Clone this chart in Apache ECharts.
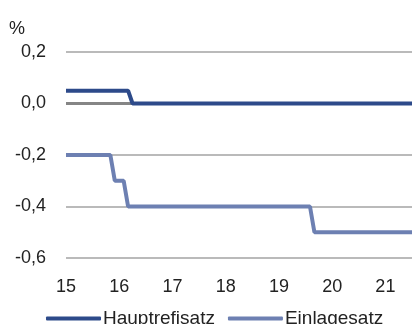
<!DOCTYPE html>
<html>
<head>
<meta charset="utf-8">
<script src="https://cdn.jsdelivr.net/npm/echarts@6/dist/echarts.min.js"></script>
<style>
  html, body { margin: 0; padding: 0; background: #fff; }
  #chart { width: 412px; height: 324px; }
</style>
</head>
<body>
<div id="chart"></div>
<script>
// Monthly observations, Jan 2015 – Jul 2021
const months = [
  '2015-01','2015-02','2015-03','2015-04','2015-05','2015-06','2015-07','2015-08','2015-09','2015-10','2015-11','2015-12',
  '2016-01','2016-02','2016-03','2016-04','2016-05','2016-06','2016-07','2016-08','2016-09','2016-10','2016-11','2016-12',
  '2017-01','2017-02','2017-03','2017-04','2017-05','2017-06','2017-07','2017-08','2017-09','2017-10','2017-11','2017-12',
  '2018-01','2018-02','2018-03','2018-04','2018-05','2018-06','2018-07','2018-08','2018-09','2018-10','2018-11','2018-12',
  '2019-01','2019-02','2019-03','2019-04','2019-05','2019-06','2019-07','2019-08','2019-09','2019-10','2019-11','2019-12',
  '2020-01','2020-02','2020-03','2020-04','2020-05','2020-06','2020-07','2020-08','2020-09','2020-10','2020-11','2020-12',
  '2021-01','2021-02','2021-03','2021-04','2021-05','2021-06','2021-07'
];

// Hauptrefinanzierungssatz, %
const hauptrefisatz = [
  0.05,0.05,0.05,0.05,0.05,0.05,0.05,0.05,0.05,0.05,0.05,0.05,
  0.05,0.05,0.05,0,0,0,0,0,0,0,0,0,
  0,0,0,0,0,0,0,0,0,0,0,0,
  0,0,0,0,0,0,0,0,0,0,0,0,
  0,0,0,0,0,0,0,0,0,0,0,0,
  0,0,0,0,0,0,0,0,0,0,0,0,
  0,0,0,0,0,0,0
];

// Einlagefazilität, %
const einlagesatz = [
  -0.2,-0.2,-0.2,-0.2,-0.2,-0.2,-0.2,-0.2,-0.2,-0.2,-0.2,-0.3,
  -0.3,-0.3,-0.4,-0.4,-0.4,-0.4,-0.4,-0.4,-0.4,-0.4,-0.4,-0.4,
  -0.4,-0.4,-0.4,-0.4,-0.4,-0.4,-0.4,-0.4,-0.4,-0.4,-0.4,-0.4,
  -0.4,-0.4,-0.4,-0.4,-0.4,-0.4,-0.4,-0.4,-0.4,-0.4,-0.4,-0.4,
  -0.4,-0.4,-0.4,-0.4,-0.4,-0.4,-0.4,-0.4,-0.5,-0.5,-0.5,-0.5,
  -0.5,-0.5,-0.5,-0.5,-0.5,-0.5,-0.5,-0.5,-0.5,-0.5,-0.5,-0.5,
  -0.5,-0.5,-0.5,-0.5,-0.5,-0.5,-0.5
];

const seriesNames = ['Hauptrefisatz', 'Einlagesatz'];
const yTicks = { min: -0.6, max: 0.2, step: 0.2 };
const xYears = { min: 15, max: 21.5, step: 1 };

// month string -> two-digit year with monthly fraction
function toYearPos(m) {
  const [y, mo] = m.split('-').map(Number);
  return (y - 2000) + (mo - 1) / 12;
}
const pairs = vals => months.map((m, i) => [toYearPos(m), vals[i]]);

const FONT = '"Liberation Sans", Arial, sans-serif';
const FS = 18;
const chart = echarts.init(document.getElementById('chart'), null, { renderer: 'canvas' });
chart.setOption({
  animation: false,
  textStyle: { fontFamily: FONT },
  grid: { left: 66, right: 0, top: 52, bottom: 66, containLabel: false },
  xAxis: {
    type: 'value',
    min: xYears.min, max: xYears.max, interval: xYears.step,
    axisLine: { show: false },
    axisTick: { show: false },
    splitLine: { show: false },
    axisLabel: {
      color: '#222', fontSize: FS, fontFamily: FONT, margin: 20,
      showMaxLabel: false,
      formatter: v => Number.isInteger(v) ? String(v) : ''
    }
  },
  yAxis: {
    type: 'value',
    min: yTicks.min, max: yTicks.max, interval: yTicks.step,
    name: '%',
    nameLocation: 'end',
    nameGap: 14,
    nameTextStyle: { color: '#222', fontSize: FS, fontFamily: FONT, align: 'left', padding: [0, 0, 0, -57] },
    axisLine: { show: false },
    axisTick: { show: false },
    splitLine: { lineStyle: { color: '#a3a3a3', width: 1.5 } },
    axisLabel: {
      color: '#222', fontSize: FS, fontFamily: FONT, margin: 20,
      formatter: v => v.toFixed(1).replace('.', ',')
    }
  },
  legend: {
    top: 304, left: 41,
    itemWidth: 55, itemHeight: 4, itemGap: 13,
    icon: 'roundRect',
    textStyle: { color: '#222', fontSize: 19, fontFamily: FONT, padding: [0, 0, 0, -3] },
    data: seriesNames
  },
  series: [
    {
      name: seriesNames[0], type: 'line', data: pairs(hauptrefisatz),
      showSymbol: false, symbol: 'none', z: 3,
      lineStyle: { color: '#2d4a8a', width: 4 },
      itemStyle: { color: '#2d4a8a' },
      markLine: {
        silent: true, symbol: 'none', z: 1,
        label: { show: false },
        lineStyle: { color: '#858585', width: 3, type: 'solid' },
        data: [{ yAxis: 0 }]
      }
    },
    {
      name: seriesNames[1], type: 'line', data: pairs(einlagesatz),
      showSymbol: false, symbol: 'none', z: 3,
      lineStyle: { color: '#6d80b2', width: 4 },
      itemStyle: { color: '#6d80b2' }
    }
  ]
});
</script>
</body>
</html>
